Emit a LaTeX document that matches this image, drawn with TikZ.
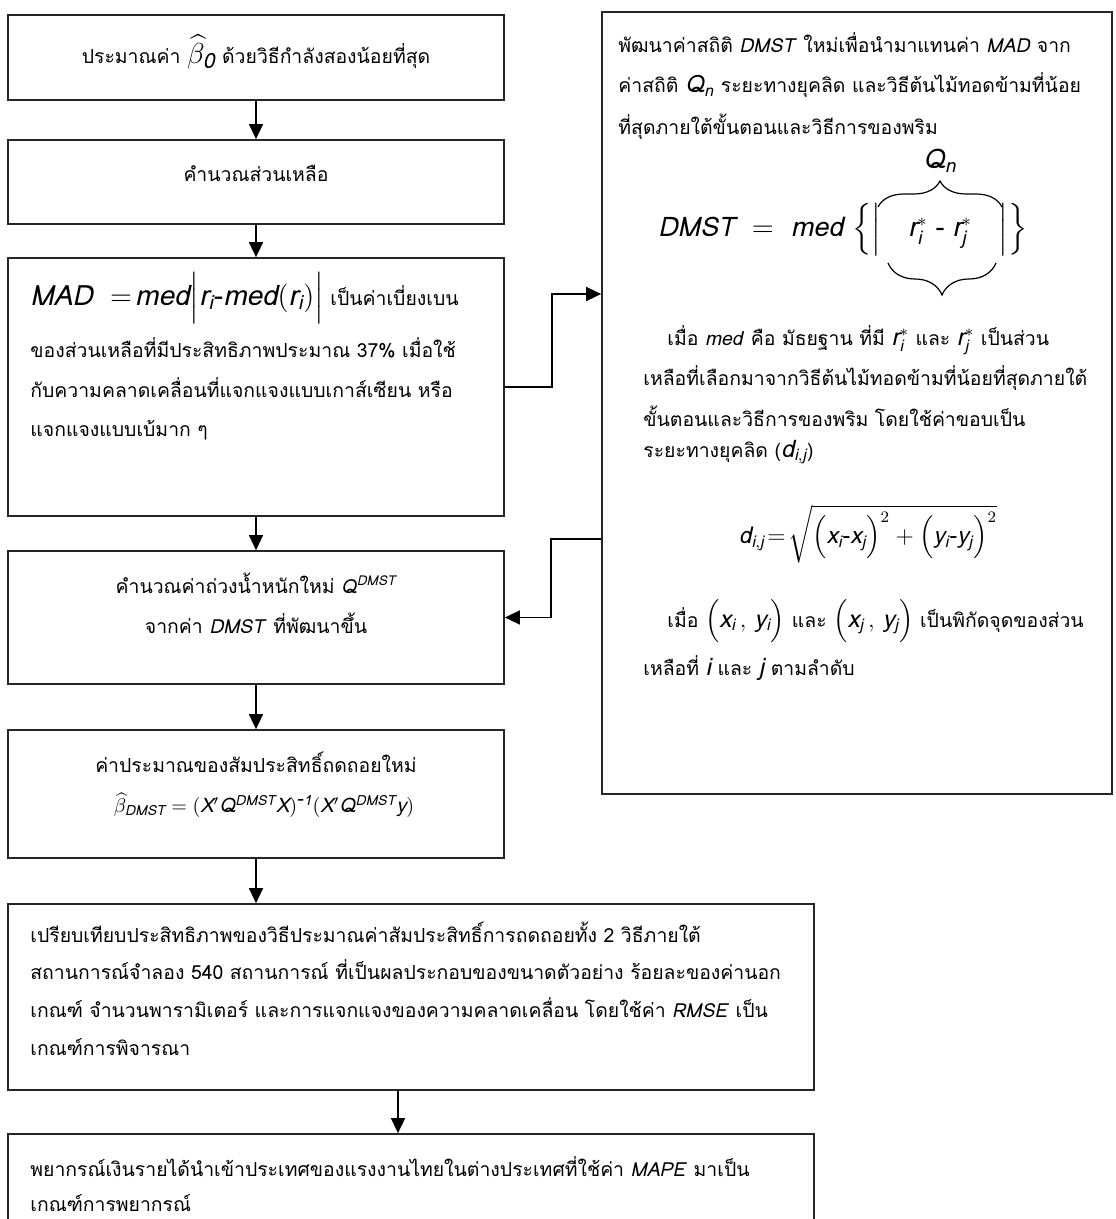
\documentclass[tikz,border=0pt]{standalone}
\usepackage{amsmath}
\usepackage{fontspec}
\setmainfont[Script=Thai]{Loma}
\usepackage{tikz}
\usetikzlibrary{arrows.meta,positioning,decorations.pathreplacing}

\newcommand{\mv}[1]{\mathit{#1}}

\begin{document}
\begin{tikzpicture}[x=0.5pt, y=-0.5pt, font=\fontsize{9.7}{18}\selectfont,
    stepbox/.style={draw=black!85, line width=0.85pt, inner sep=0pt},
    arr/.style={-{Triangle[length=7.5pt,width=7pt]}, line width=0.7pt},
    txt/.style={inner sep=0pt},
    eqn/.style={inner sep=0pt, font=\fontsize{13.5}{16}\selectfont},
    brc/.style={decorate, line width=0.6pt}]
    \path[use as bounding box, fill=white] (0,0) rectangle (1115,1219);
    % left column of steps
    \node[stepbox, minimum width=248pt, minimum height=42.5pt] (b1) at (256,57.5) {};
    \node[stepbox, minimum width=248pt, minimum height=42pt]   (b2) at (256,182) {};
    \node[stepbox, minimum width=248pt, minimum height=129pt]  (b3) at (256,387) {};
    \node[stepbox, minimum width=248pt, minimum height=66.5pt] (b4) at (256,617.5) {};
    \node[stepbox, minimum width=248pt, minimum height=64pt]   (b5) at (256,794) {};
    \node[stepbox, minimum width=403pt, minimum height=93pt]   (b6) at (411,997) {};
    \node[stepbox, minimum width=403pt, minimum height=46pt]   (b7) at (411,1180) {};
    % right box
    \node[stepbox, minimum width=255pt, minimum height=391pt]  (rb) at (857,403) {};
    % texts of the steps
    \node[txt] (t1) at (256,52)
      {ประมาณค่า {\fontsize{15}{16}\selectfont$\widehat{\beta}_{\mv{0}}$} ด้วยวิธีกำลังสองน้อยที่สุด};
    \node[txt] (t2) at (256,173) {คำนวณส่วนเหลือ};
    \node[txt, anchor=west] (t3a) at (30,298)
      {{\fontsize{14}{18}\selectfont$\mv{MAD}\ =\!\mv{med}\Big|\mv{r}_{\mv{i}}\mbox{-}\mv{med}(\mv{r}_{\mv{i}})\Big|$} เป็นค่าเบี่ยงเบน};
    \node[txt, anchor=west] (t3b) at (30,348)
      {ของส่วนเหลือที่มีประสิทธิภาพประมาณ 37\% เมื่อใช้};
    \node[txt, anchor=west] (t3c) at (30,388)
      {กับความคลาดเคลื่อนที่แจกแจงแบบเกาส์เซียน หรือ};
    \node[txt, anchor=west] (t3d) at (30,430) {แจกแจงแบบเบ้มาก ๆ};
    \node[txt] (t4a) at (256,583)
      {คำนวณค่าถ่วงน้ำหนักใหม่ $\mv{Q}^{\mv{DMST}}$};
    \node[txt] (t4b) at (256,623) {จากค่า \textit{DMST} ที่พัฒนาขึ้น};
    \node[txt] (t5a) at (256,762) {ค่าประมาณของสัมประสิทธิ์ถดถอยใหม่};
    \node[txt, font=\fontsize{10}{14}\selectfont] (t5b) at (264,805)
      {$\widehat{\beta}_{\mv{DMST}}=(\mv{X}'\mv{Q}^{\mv{DMST}}\mv{X})^{\mbox{-}\mv{1}}(\mv{X}'\mv{Q}^{\mv{DMST}}\mv{y})$};
    \node[txt, anchor=west] (t6a) at (30,932)
      {เปรียบเทียบประสิทธิภาพของวิธีประมาณค่าสัมประสิทธิ์การถดถอยทั้ง 2 วิธีภายใต้};
    \node[txt, anchor=west] (t6b) at (30,970)
      {สถานการณ์จำลอง 540 สถานการณ์ ที่เป็นผลประกอบของขนาดตัวอย่าง ร้อยละของค่านอก};
    \node[txt, anchor=west] (t6c) at (30,1008)
      {เกณฑ์ จำนวนพารามิเตอร์ และการแจกแจงของความคลาดเคลื่อน โดยใช้ค่า \textit{RMSE} เป็น};
    \node[txt, anchor=west] (t6d) at (30,1047) {เกณฑ์การพิจารณา};
    \node[txt, anchor=west] (t7a) at (30,1167)
      {พยากรณ์เงินรายได้นำเข้าประเทศของแรงงานไทยในต่างประเทศที่ใช้ค่า \textit{MAPE} มาเป็น};
    \node[txt, anchor=west] (t7b) at (30,1203) {เกณฑ์การพยากรณ์};
    % texts of the right box
    \node[txt, anchor=west] (r1) at (618,43)
      {พัฒนาค่าสถิติ \textit{DMST} ใหม่เพื่อนำมาแทนค่า \textit{MAD} จาก};
    \node[txt, anchor=west] (r2) at (618,85)
      {ค่าสถิติ {\large$\mv{Q}_{\mv{n}}$} ระยะทางยุคลิด และวิธีต้นไม้ทอดข้ามที่น้อย};
    \node[txt, anchor=west] (r3) at (618,127)
      {ที่สุดภายใต้ขั้นตอนและวิธีการของพริม};
    \node[eqn, minimum width=58pt] (rdiff) at (940,233)
      {$\mv{r}^{*}_{\mv{i}}\;\mbox{-}\;\mv{r}^{*}_{\mv{j}}$};
    \node[eqn, anchor=base east] (dmst) at (rdiff.base west)
      {$\mv{DMST}\ =\ \mv{med}\ \Big\{\Big|$};
    \node[eqn, anchor=base west] (dmstr) at (rdiff.base east) {$\Big|\Big\}$};
    \draw[brc, decoration={brace, amplitude=13pt}]
      ([shift={(-31pt,13pt)}]rdiff.center) -- ([shift={(31pt,13pt)}]rdiff.center)
      node[midway, above=17pt, eqn] (qn) {$\mv{Q}_{\mv{n}}$};
    \draw[brc, decoration={brace, amplitude=16pt}]
      ([shift={(28pt,-15pt)}]rdiff.center) -- ([shift={(-26pt,-15pt)}]rdiff.center);
    \node[txt, anchor=west] (r4) at (667,340)
      {เมื่อ \textit{med} คือ มัธยฐาน ที่มี {\large$\mv{r}^{*}_{\mv{i}}$} และ {\large$\mv{r}^{*}_{\mv{j}}$} เป็นส่วน};
    \node[txt, anchor=west] (r5) at (643,378)
      {เหลือที่เลือกมาจากวิธีต้นไม้ทอดข้ามที่น้อยที่สุดภายใต้};
    \node[txt, anchor=west] (r6) at (643,416)
      {ขั้นตอนและวิธีการของพริม โดยใช้ค่าขอบเป็น};
    \node[txt, anchor=west] (r7) at (643,452)
      {ระยะทางยุคลิด ({\large$\mv{d}_{\mv{i,j}}$})};
    \node[eqn, font=\fontsize{11.5}{14}\selectfont] (dij) at (868,534)
      {$\mv{d}_{\mv{i,j}}\!=\!\sqrt{\Big(\mv{x}_{\mv{i}}\mbox{-}\mv{x}_{\mv{j}}\Big)^{2}+\Big(\mv{y}_{\mv{i}}\mbox{-}\mv{y}_{\mv{j}}\Big)^{2}}$};
    \node[txt, anchor=west] (r8) at (667,621)
      {เมื่อ {\large$\Big(\mv{x}_{\mv{i}}\,,\,\mv{y}_{\mv{i}}\Big)$} และ {\large$\Big(\mv{x}_{\mv{j}}\,,\,\mv{y}_{\mv{j}}\Big)$} เป็นพิกัดจุดของส่วน};
    \node[txt, anchor=west] (r9) at (643,668)
      {เหลือที่ {\large$\mv{i}$} และ {\large$\mv{j}$} ตามลำดับ};
    % connectors
    \coordinate (j1) at (552,294);
    \coordinate (j2) at (551,539);
    \coordinate (c6) at (398,1100);
    \draw[arr] (b1) -- (b2);
    \draw[arr] (b2) -- (b3);
    \draw[arr] (b3) -- (b4);
    \draw[arr] (b4) -- (b5);
    \draw[arr] (b5.south) -- (b6.north -| b5.south);
    \draw[arr] (b6.south -| c6) -- (b7.north -| c6);
    \draw[arr] (b3.east) -| (j1) -- (rb.west |- j1);
    \draw[arr] (rb.west |- j2) -- (j2) |- (b4.east);
\end{tikzpicture}
\end{document}
